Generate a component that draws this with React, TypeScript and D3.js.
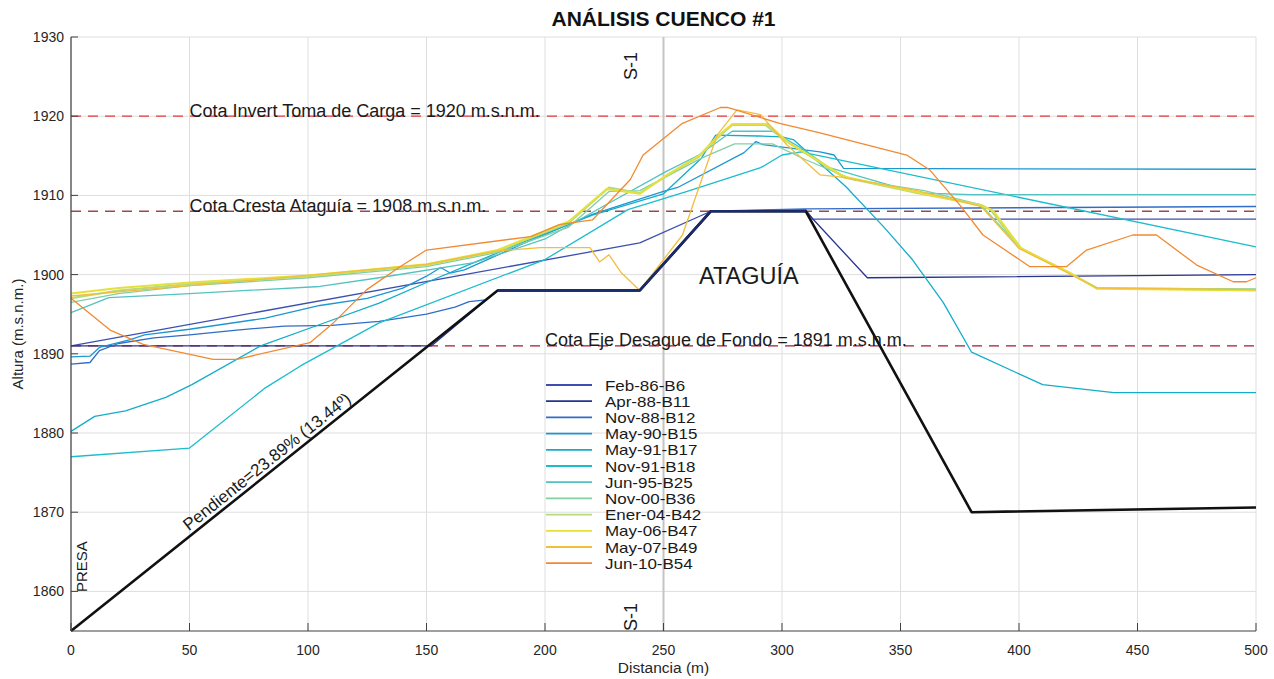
import React from "react";
import * as d3 from "d3";

// ---------- data ----------
const xTicks = [0, 50, 100, 150, 200, 250, 300, 350, 400, 450, 500];
const yTicks = [1860, 1870, 1880, 1890, 1900, 1910, 1920, 1930];

const seriesNames = [
  "Feb-86-B6", "Apr-88-B11", "Nov-88-B12", "May-90-B15", "May-91-B17", "Nov-91-B18",
  "Jun-95-B25", "Nov-00-B36", "Ener-04-B42", "May-06-B47", "May-07-B49", "Jun-10-B54",
];
const seriesColors = [
  "#3c4fb0", "#26348f", "#2f6dc8", "#1c97d2", "#14adc9", "#1bbccd",
  "#52c3c0", "#82cfa4", "#b6da7e", "#e6e03c", "#f2be3c", "#f08a32",
];

const feb86: [number, number][] = [[0, 1891], [240, 1904], [270, 1908], [310, 1908.2], [313, 1907], [500, 1907]];
const apr88: [number, number][] = [[0, 1891], [152, 1891], [180, 1898], [240, 1898], [270, 1908], [310, 1908], [336, 1899.6], [500, 1900]];
const nov88: [number, number][] = [[0, 1888.7], [8, 1888.9], [12, 1890.4], [20, 1891.3], [35, 1892], [50, 1892.4], [70, 1893], [90, 1893.5], [110, 1893.6], [130, 1894.1], [150, 1895], [162, 1895.9], [168, 1896.6], [175, 1896.8], [180, 1898], [240, 1898], [270, 1908], [310, 1908.3], [500, 1908.6]];
const may90: [number, number][] = [[0, 1889.6], [8, 1889.7], [12, 1890.8], [25, 1891.8], [31, 1892.4], [50, 1893.1], [82, 1894.5], [105, 1896.1], [125, 1897], [140, 1898.3], [150, 1899.8], [156, 1900.9], [160, 1900.2], [166, 1900.6], [190, 1903.8], [220, 1907.6], [250, 1910.5], [256, 1911], [284, 1915.4], [289, 1916.8], [292, 1916.4], [316, 1915.5], [322, 1915.1], [326, 1913.4], [500, 1913.3]];
const may91: [number, number][] = [[0, 1880.2], [10, 1882.1], [23, 1882.8], [40, 1884.5], [51, 1886.1], [80, 1891], [105, 1893.7], [130, 1896.4], [150, 1899], [170, 1901.5], [190, 1904], [220, 1907.5], [250, 1910.2], [266, 1914.7], [272, 1917.6], [290, 1917.5], [300, 1917.4], [305, 1917], [327, 1911.1], [343, 1906], [355, 1901.9], [368, 1896.5], [380, 1890.2], [410, 1886.1], [440, 1885.1], [500, 1885.1]];
const nov91: [number, number][] = [[0, 1877], [50, 1878.1], [82, 1885.7], [97, 1888.5], [130, 1893.9], [200, 1901.9], [235, 1908.2], [260, 1910.5], [291, 1913.5], [300, 1915.1], [308, 1915.5], [500, 1903.5]];
const jun95: [number, number][] = [[0, 1895.2], [16, 1897.1], [50, 1897.6], [105, 1898.5], [130, 1899.6], [170, 1901.5], [200, 1904.5], [225, 1908.7], [251, 1913], [265, 1915.1], [279, 1918.1], [296, 1918.1], [308, 1916], [320, 1913.5], [357, 1910.3], [380, 1910.1], [500, 1910.1]];
const nov00: [number, number][] = [[0, 1896.5], [20, 1897.6], [50, 1898.6], [100, 1899.6], [150, 1901], [180, 1902.8], [210, 1906], [227, 1910.5], [240, 1910.6], [252, 1912.5], [266, 1914.7], [280, 1916.5], [296, 1916.5], [310, 1914.5], [330, 1912], [360, 1910.6], [384, 1908.8], [400, 1903.5], [420, 1900.4], [433, 1898.3], [500, 1898.2]];
const ener04: [number, number][] = [[0, 1897], [20, 1898], [50, 1898.8], [100, 1899.8], [150, 1901.2], [180, 1903], [210, 1906.5], [227, 1911], [240, 1910.3], [252, 1912.6], [265, 1914.9], [273, 1917.3], [279, 1918.9], [293, 1918.9], [302, 1916.8], [311, 1915.1], [326, 1912.3], [357, 1910.3], [384, 1908.8], [388, 1908.2], [400, 1903.4], [420, 1900.4], [433, 1898.3], [500, 1898.1]];
const may06: [number, number][] = [[0, 1897.6], [20, 1898.3], [50, 1899], [100, 1899.9], [150, 1901.3], [180, 1903.1], [210, 1906.7], [226, 1910.8], [240, 1910.2], [252, 1912.7], [265, 1915], [273, 1917.5], [279, 1919], [294, 1919], [303, 1916.6], [312, 1915], [326, 1912.4], [357, 1910.4], [384, 1908.7], [389, 1908.1], [401, 1903.3], [421, 1900.3], [433, 1898.2], [500, 1898]];
const may07: [number, number][] = [[0, 1897.3], [50, 1898.6], [100, 1899.9], [150, 1901.3], [180, 1903], [198, 1903.4], [219, 1903.4], [223, 1901.6], [227, 1902.5], [232, 1900.3], [240, 1898], [258, 1905], [272.6, 1917.6], [281, 1920.8], [291, 1920.2], [302, 1916.4], [316, 1912.6], [325, 1912.3], [357, 1910.6], [384, 1908.6], [400, 1903.3], [420, 1900.3], [433, 1898.3], [500, 1898.1]];
const jun10: [number, number][] = [[0, 1897], [16.5, 1893], [30.5, 1891.2], [60, 1889.3], [70, 1889.3], [100.8, 1891.4], [110.7, 1893.9], [124.8, 1898.1], [138.8, 1901], [150, 1903.1], [194, 1904.8], [206, 1906.3], [220, 1906.9], [236, 1912], [241.4, 1915.1], [258, 1919.1], [274, 1921.1], [277, 1921.1], [299, 1919.1], [316, 1917.9], [352.6, 1915.1], [362.4, 1913.2], [375, 1908.8], [384.8, 1905], [404.6, 1901], [420, 1901], [428.5, 1903.1], [448, 1905], [458, 1905], [475, 1901.2], [490.4, 1899.1], [496, 1899.1], [500, 1899.6]];

const seriesData = [feb86, apr88, nov88, may90, may91, nov91, jun95, nov00, ener04, may06, may07, jun10];

const damProfile: [number, number][] = [[0, 1855], [180, 1898], [240, 1898], [270, 1908], [310, 1908], [380, 1870], [500, 1870.6]];

const refLevels = [1920, 1908, 1891];
const refColors = ["#e4383c", "#a0464c", "#a41c30"];
const refLabels = [
  "Cota Invert Toma de Carga = 1920 m.s.n.m.",
  "Cota Cresta Ataguía = 1908 m.s.n.m.",
  "Cota Eje Desague de Fondo = 1891 m.s.n.m.",
];
const refLabelX = [50, 50, 200];
const sectionX = 250;

// ---------- layout ----------
const W = 1274, H = 679;
const L = 71, R = 1256, T = 37, B = 631;
const FONT = "'Liberation Sans', Arial, Helvetica, sans-serif";

export default function App() {
  const x = d3.scaleLinear().domain([0, 500]).range([L, R]);
  const y = d3.scaleLinear().domain([1855, 1930]).range([B, T]);
  const line = d3.line<[number, number]>().x((d) => x(d[0])).y((d) => y(d[1]));

  const damTop = damProfile.filter((d) => d[0] >= 180 && d[0] <= 310);
  const slopeAngle = (Math.atan2(y(damProfile[0][1]) - y(damProfile[1][1]), x(damProfile[1][0]) - x(damProfile[0][0])) * 180) / Math.PI;

  return (
    <svg width={W} height={H} style={{ position: "absolute", left: 0, top: 0, background: "#fff" }} fontFamily={FONT}>
      <rect x={0} y={0} width={W} height={H} fill="#fff" />
      {/* grid */}
      {xTicks.map((t) => (
        <line key={"gx" + t} x1={x(t)} x2={x(t)} y1={T} y2={B} stroke="#dedede" strokeWidth={1} />
      ))}
      {yTicks.map((t) => (
        <line key={"gy" + t} x1={L} x2={R} y1={y(t)} y2={y(t)} stroke="#dedede" strokeWidth={1} />
      ))}
      {/* section line */}
      <line x1={x(sectionX)} x2={x(sectionX)} y1={T} y2={B} stroke="#c4c4c4" strokeWidth={2} />

      {/* reference dashed levels */}
      {refLevels.map((lv, i) => (
        <line key={"ref" + lv} x1={L} x2={R} y1={y(lv)} y2={y(lv)} stroke={refColors[i]} strokeWidth={1.3} strokeDasharray="10,7" />
      ))}

      {/* series */}
      {seriesData.map((s, i) => (
        <path key={seriesNames[i]} d={line(s) || ""} fill="none" stroke={seriesColors[i]} strokeWidth={i >= 8 && i <= 9 ? 2 : 1.3} strokeLinejoin="round" />
      ))}

      {/* dam */}
      <path d={line(damProfile) || ""} fill="none" stroke="#111" strokeWidth={2.6} strokeLinejoin="round" />
      <path d={line(damTop) || ""} fill="none" stroke="#1b2a6b" strokeWidth={2.6} strokeLinejoin="round" />

      {/* axes */}
      <line x1={L} x2={L} y1={T} y2={B} stroke="#404040" strokeWidth={1.2} />
      <line x1={L} x2={R} y1={B} y2={B} stroke="#404040" strokeWidth={1.2} />
      {xTicks.map((t) => (
        <g key={"xt" + t}>
          <line x1={x(t)} x2={x(t)} y1={B} y2={B - 8} stroke="#404040" strokeWidth={1} />
          <text x={x(t)} y={B + 24} fontSize={14} textAnchor="middle" fill="#262626">{t}</text>
        </g>
      ))}
      {yTicks.map((t) => (
        <g key={"yt" + t}>
          <line x1={L} x2={L + 7} y1={y(t)} y2={y(t)} stroke="#404040" strokeWidth={1} />
          <text x={L - 7} y={y(t) + 5} fontSize={14} textAnchor="end" fill="#262626">{t}</text>
        </g>
      ))}

      {/* titles */}
      <text x={(L + R) / 2} y={26} fontSize={21} fontWeight="bold" textAnchor="middle" fill="#111">ANÁLISIS CUENCO #1</text>
      <text x={(L + R) / 2} y={673} fontSize={15.5} textAnchor="middle" fill="#262626">Distancia (m)</text>
      <text transform={`translate(23,${(T + B) / 2}) rotate(-90)`} fontSize={15} textAnchor="middle" fill="#262626">Altura (m.s.n.m.)</text>

      {/* reference labels */}
      {refLevels.map((lv, i) => (
        <text key={"rl" + lv} x={x(refLabelX[i])} y={y(lv) + 0.5} fontSize={18} fill="#1a1a1a">{refLabels[i]}</text>
      ))}

      {/* annotations */}
      <text x={x(265)} y={y(1898.8)} fontSize={23.5} fill="#1a1a1a">ATAGUÍA</text>
      <text transform={`translate(${x(50) + 3},${y(1867)}) rotate(${-slopeAngle})`} dy={-6} fontSize={17} fill="#1a1a1a">Pendiente=23.89% (13.44º)</text>
      <text transform={`translate(${x(6.8)},${y(1855) - 39}) rotate(-90)`} fontSize={15} fill="#1a1a1a">PRESA</text>
      <text transform={`translate(${x(238) + 2},${T + 43}) rotate(-90)`} fontSize={18} fill="#1a1a1a">S-1</text>
      <text transform={`translate(${x(238) + 2},${B}) rotate(-90)`} fontSize={18} fill="#1a1a1a">S-1</text>

      {/* legend */}
      {seriesNames.map((n, i) => {
        const ly = 385 + i * 16.2;
        return (
          <g key={"lg" + n}>
            <line x1={546} x2={592} y1={ly} y2={ly} stroke={seriesColors[i]} strokeWidth={1.8} />
            <text transform={`translate(605,${ly + 5.5}) scale(1.17,1)`} fontSize={14.5} fill="#1a1a1a">{n}</text>
          </g>
        );
      })}
    </svg>
  );
}
